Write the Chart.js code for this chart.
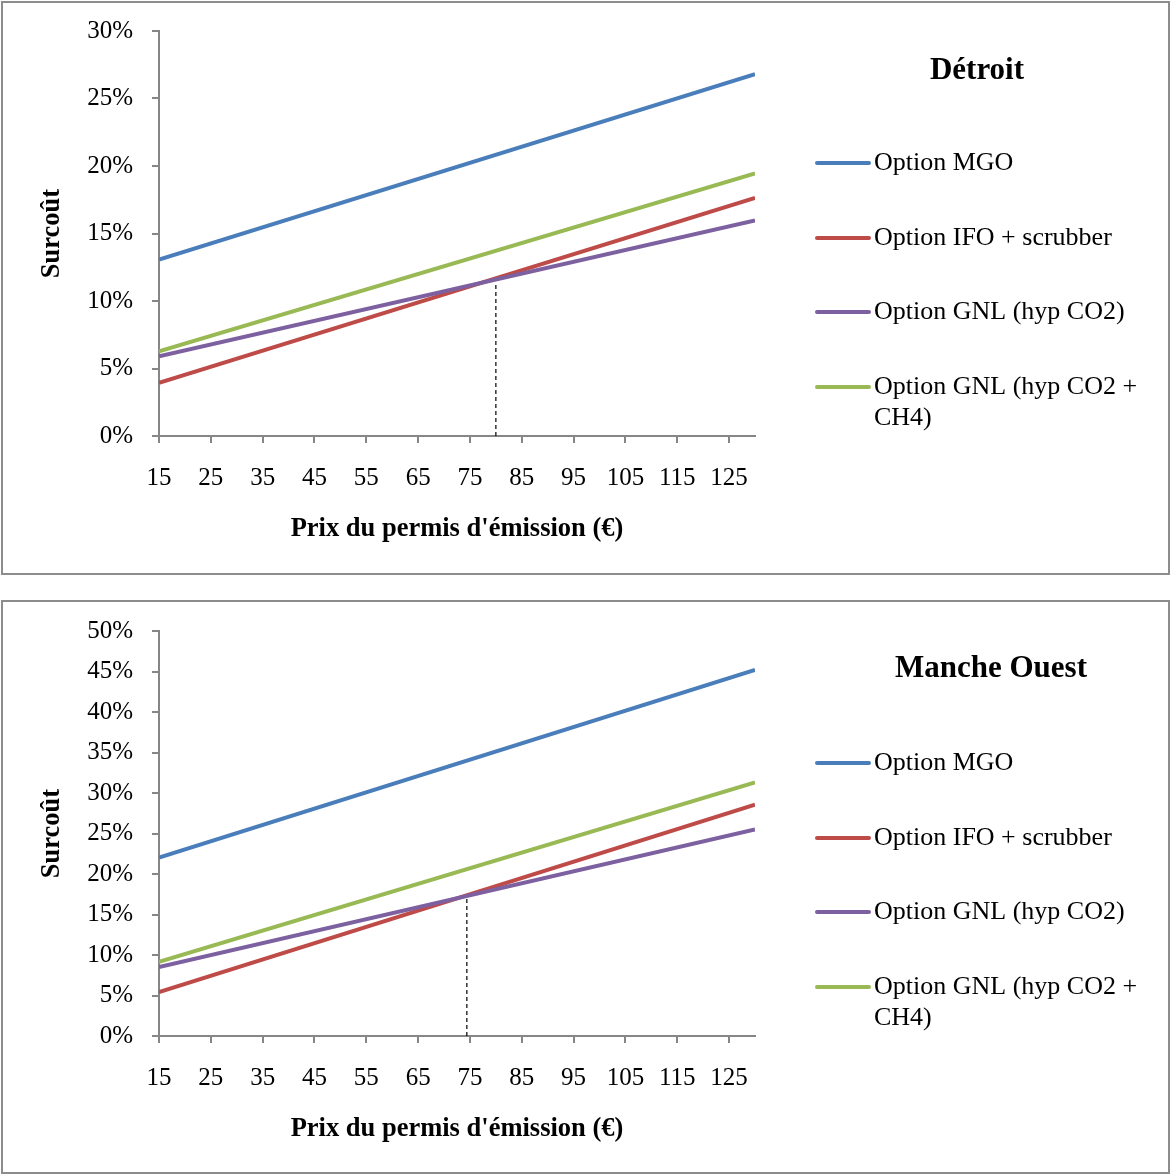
<!DOCTYPE html>
<html><head><meta charset="utf-8">
<script src="https://cdn.jsdelivr.net/npm/chart.js@4/dist/chart.umd.min.js"></script>
<style>
html,body{margin:0;padding:0;background:#fff;width:1171px;height:1176px;overflow:hidden;}
.box{position:absolute;left:1px;width:1165px;border:2px solid #8c8c8c;box-sizing:content-box;}
canvas{position:absolute;left:0;}
</style></head><body>
<div class="box" style="top:1px;height:570px"></div>
<div class="box" style="top:600px;height:570px"></div>
<canvas id="c1" width="1171" height="578" style="top:0px"></canvas>
<canvas id="c2" width="1171" height="578" style="top:600px"></canvas>
<script>
// ---- data ----
const seriesNames = ['Option MGO', 'Option IFO + scrubber', 'Option GNL (hyp CO2)', 'Option GNL (hyp CO2 + CH4)'];
const seriesColors = ['#4A7EBB', '#BE4B48', '#7D60A0', '#98B954'];
const xPrices = [15, 130];              // price range of the curves (€)
const xTickLabels = [15, 25, 35, 45, 55, 65, 75, 85, 95, 105, 115, 125];

// Détroit (surcoût %)
const detroitTitle = 'Détroit';
const detroitMGO = [13.07, 26.8];
const detroitIFO = [3.93, 17.64];
const detroitGNLCO2 = [5.91, 15.96];
const detroitGNLCO2CH4 = [6.28, 19.45];
const detroitDropX = [80, 80];
const detroitDropY = [0, 11.2];
const detroitYTicks = [0, 5, 10, 15, 20, 25, 30];

// Manche Ouest (surcoût %)
const mancheTitle = 'Manche Ouest';
const mancheMGO = [22.04, 45.2];
const mancheIFO = [5.41, 28.55];
const mancheGNLCO2 = [8.5, 25.5];
const mancheGNLCO2CH4 = [9.17, 31.3];
const mancheDropX = [74.4, 74.4];
const mancheDropY = [0, 17.2];
const mancheYTicks = [0, 5, 10, 15, 20, 25, 30, 35, 40, 45, 50];

const yTitle = 'Surcoût';
const xTitle = "Prix du permis d'émission (€)";

const FONT = "'Liberation Serif', 'Times New Roman', serif";
const AXIS_COLOR = '#868686';

function pts(xs, ys) { return xs.map((x, i) => ({x: x, y: ys[i]})); }

function makeChart(id, title, titleX, titleY, series, dropX, dropY, yTicks) {
  const datasets = series.map((s, i) => ({
    label: seriesNames[i],
    data: pts(xPrices, s),
    borderColor: seriesColors[i],
    backgroundColor: seriesColors[i],
    borderWidth: 4,
    pointRadius: 0,
    tension: 0,
    order: i === 0 ? 4 : (i === 3 ? 3 : (i === 1 ? 2 : 1))
  }));
  datasets.push({
    label: 'drop',
    data: pts(dropX, dropY),
    borderColor: '#000',
    borderWidth: 1.2,
    borderDash: [4, 3],
    pointRadius: 0,
    order: 5
  });

  const legendPlugin = {
    id: 'customLegend',
    afterDraw(chart) {
      const ctx = chart.ctx;
      ctx.save();
      ctx.fillStyle = '#000';
      ctx.font = 'bold 31px ' + FONT;
      ctx.textAlign = 'center';
      ctx.textBaseline = 'middle';
      ctx.fillText(title, titleX, titleY);
      const ys = [163, 238, 312, 387];
      ctx.font = '26px ' + FONT;
      ctx.textAlign = 'left';
      seriesNames.forEach((name, i) => {
        const y = ys[i];
        ctx.strokeStyle = seriesColors[i];
        ctx.lineWidth = 4;
        ctx.lineCap = 'round';
        ctx.beginPath();
        ctx.moveTo(817, y);
        ctx.lineTo(869, y);
        ctx.stroke();
        ctx.fillStyle = '#000';
        if (i === 3) {
          ctx.fillText('Option GNL (hyp CO2 +', 874, y);
          ctx.fillText('CH4)', 874, y + 31);
        } else {
          ctx.fillText(name, 874, y);
        }
      });
      ctx.restore();
    }
  };

  return new Chart(document.getElementById(id), {
    type: 'line',
    data: {datasets: datasets},
    plugins: [legendPlugin],
    options: {
      responsive: false,
      animation: false,
      events: [],
      layout: {padding: {top: 31, right: 416, bottom: 0, left: 0}},
      plugins: {legend: {display: false}, tooltip: {enabled: false}},
      scales: {
        x: {
          type: 'linear',
          min: xPrices[0],
          max: xPrices[1],
          afterBuildTicks(scale) { scale.ticks = xTickLabels.map(v => ({value: v})); },
          afterFit(scale) { scale.height = 142; scale.paddingLeft = 0; scale.paddingRight = 0; },
          border: {color: AXIS_COLOR, width: 2},
          grid: {drawOnChartArea: false, drawTicks: true, tickLength: 7, color: AXIS_COLOR, lineWidth: 2},
          ticks: {color: '#000', font: {family: FONT, size: 25}, padding: 20, maxRotation: 0, autoSkip: false},
          title: {display: true, text: xTitle, color: '#000', font: {family: FONT, size: 26.5, weight: 'bold'}, padding: {top: 0, bottom: 33}}
        },
        y: {
          min: yTicks[0],
          max: yTicks[yTicks.length - 1],
          afterBuildTicks(scale) { scale.ticks = yTicks.map(v => ({value: v})); },
          afterFit(scale) { scale.width = 159; scale.paddingTop = 0; scale.paddingBottom = 0; },
          border: {color: AXIS_COLOR, width: 2},
          grid: {drawOnChartArea: false, drawTicks: true, tickLength: 7, color: AXIS_COLOR, lineWidth: 2},
          ticks: {color: '#000', font: {family: FONT, size: 25}, padding: 19, callback: v => v + '%'},
          title: {display: true, text: yTitle, color: '#000', font: {family: FONT, size: 26.5, weight: 'bold'}, padding: {top: 36, bottom: 0}}
        }
      }
    }
  });
}

makeChart('c1', detroitTitle, 977, 71,
  [detroitMGO, detroitIFO, detroitGNLCO2, detroitGNLCO2CH4], detroitDropX, detroitDropY, detroitYTicks);
makeChart('c2', mancheTitle, 991, 69,
  [mancheMGO, mancheIFO, mancheGNLCO2, mancheGNLCO2CH4], mancheDropX, mancheDropY, mancheYTicks);
</script>
</body></html>
